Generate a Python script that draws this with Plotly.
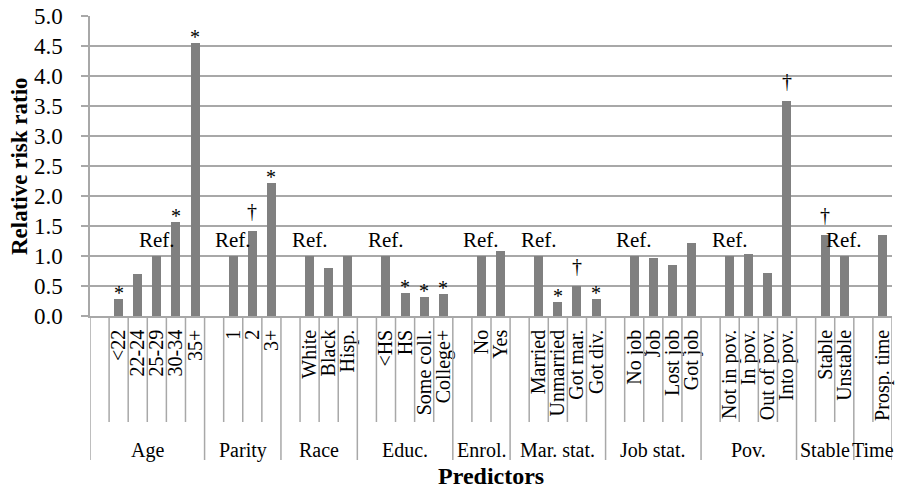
import plotly.graph_objects as go

# ---------------- data ----------------
groups = ["Age", "Parity", "Race", "Educ.", "Enrol.", "Mar. stat.",
          "Job stat.", "Pov.", "Stable", "Time"]
categories = [
    ["<22", "22-24", "25-29", "30-34", "35+"],
    ["1", "2", "3+"],
    ["White", "Black", "Hisp."],
    ["<HS", "HS", "Some coll.", "College+"],
    ["No", "Yes"],
    ["Married", "Unmarried", "Got mar.", "Got div."],
    ["No job", "Job", "Lost job", "Got job"],
    ["Not in pov.", "In pov.", "Out of pov.", "Into pov."],
    ["Stable", "Unstable"],
    ["Prosp. time"],
]
values = [
    [0.28, 0.70, 1.00, 1.57, 4.55],
    [1.00, 1.42, 2.22],
    [1.00, 0.80, 1.00],
    [1.00, 0.38, 0.31, 0.36],
    [1.00, 1.09],
    [1.00, 0.24, 0.50, 0.28],
    [1.00, 0.96, 0.85, 1.22],
    [1.00, 1.03, 0.72, 3.58],
    [1.35, 1.00],
    [1.35],
]
marks = [
    ["*", "", "Ref.", "*", "*"],
    ["Ref.", "†", "*"],
    ["Ref.", "", ""],
    ["Ref.", "*", "*", "*"],
    ["Ref.", ""],
    ["Ref.", "*", "†", "*"],
    ["Ref.", "", "", ""],
    ["Ref.", "", "", "†"],
    ["†", "Ref."],
    [""],
]
y_ticks = [0.0, 0.5, 1.0, 1.5, 2.0, 2.5, 3.0, 3.5, 4.0, 4.5, 5.0]

# ---------------- layout of slots (one empty slot before each group) ----------------
xs, ys, labels, mk = [], [], [], []
group_start, group_end = [], []
slot = 0
for g, cats, vals, mks in zip(groups, categories, values, marks):
    group_start.append(slot)
    slot += 1  # empty leading slot
    for c, v, m in zip(cats, vals, mks):
        xs.append(slot)
        ys.append(v)
        labels.append(c)
        mk.append(m)
        slot += 1
    group_end.append(slot)
n_slots = slot

FONT = "Liberation Serif"
GRID = "#a8a8a8"
PLOT_H = 300.0

fig = go.Figure()
fig.add_trace(go.Bar(x=xs, y=ys, width=0.47, marker=dict(color="#808080", line=dict(width=0)),
                     hoverinfo="skip"))

ann = []
for x, y, m in zip(xs, ys, mk):
    if not m:
        continue
    if m == "Ref.":
        ann.append(dict(x=x, y=y, text=m, showarrow=False, xref="x", yref="y",
                        yanchor="bottom", yshift=2, font=dict(family=FONT, size=21, color="black")))
    elif m == "*":
        ann.append(dict(x=x, y=y, text=m, showarrow=False, xref="x", yref="y",
                        yanchor="bottom", yshift=-7, font=dict(family=FONT, size=20, color="black")))
    else:
        ann.append(dict(x=x, y=y, text=m, showarrow=False, xref="x", yref="y",
                        yanchor="bottom", yshift=7, font=dict(family=FONT, size=20, color="black")))

# group labels
for g, s, e in zip(groups, group_start, group_end):
    ann.append(dict(x=(s + e - 1) / 2.0, y=-134 / PLOT_H, xref="x", yref="paper", text=g,
                    showarrow=False, yanchor="middle", xanchor="center",
                    font=dict(family=FONT, size=20, color="black")))

# axis titles
ann.append(dict(x=0.5, y=-174 / PLOT_H, xref="paper", yref="paper", text="<b>Predictors</b>",
                showarrow=False, yanchor="bottom", borderpad=0,
                font=dict(family=FONT, size=24, color="black")))
ann.append(dict(x=0, xshift=-71, y=0.5, xref="paper", yref="paper", text="<b>Relative risk ratio</b>",
                textangle=-90, showarrow=False, xanchor="center", yanchor="middle",
                font=dict(family=FONT, size=23, color="black")))

# category divider lines
shapes = []
group_bounds = set(group_start) | {n_slots}
for b in range(n_slots + 1):
    depth = 144 if b in group_bounds else 106
    shapes.append(dict(type="line", xref="x", yref="paper", x0=b - 0.5, x1=b - 0.5,
                       y0=0, y1=-depth / PLOT_H, line=dict(color=GRID, width=1.5)))

fig.update_layout(
    width=901, height=490,
    margin=dict(l=90, r=9, t=16, b=174, autoexpand=False),
    paper_bgcolor="white", plot_bgcolor="white",
    showlegend=False,
    bargap=0,
    annotations=ann,
    shapes=shapes,
    font=dict(family=FONT, color="black"),
)
fig.update_xaxes(
    range=[-0.5, n_slots - 0.5], tickmode="array", tickvals=xs, ticktext=labels,
    tickangle=-90, tickfont=dict(family=FONT, size=20, color="black"),
    ticks="", showgrid=False, zeroline=False, showline=True, linecolor=GRID, linewidth=1.5,
    ticklabelstandoff=4, fixedrange=True, automargin=False,
)
fig.update_yaxes(
    range=[0, 5.0], tickmode="array", tickvals=y_ticks, ticktext=[f"{v:.1f}" for v in y_ticks],
    tickfont=dict(family=FONT, size=23, color="black"),
    ticks="outside", ticklen=7, tickcolor=GRID, tickwidth=1.5,
    showgrid=True, gridcolor=GRID, gridwidth=1.5, zeroline=False,
    showline=True, linecolor=GRID, linewidth=1.5, ticklabelstandoff=14, fixedrange=True,
    automargin=False,
)

fig.write_html(
    "out.html",
    config={"displayModeBar": False},
    post_script="document.body.style.margin='0';document.body.style.padding='0';",
)
